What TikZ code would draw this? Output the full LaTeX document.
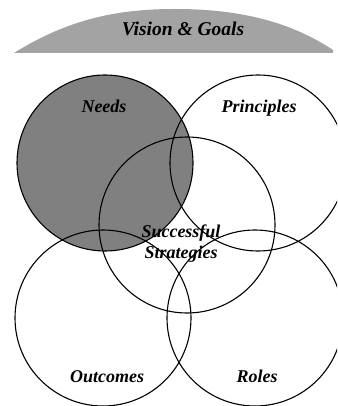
\documentclass[tikz,border=0pt]{standalone}
\usepackage{fontspec}
\setmainfont{Liberation Serif}
\begin{document}
\begin{tikzpicture}[x=1pt,y=-1pt,
  ring/.style={circle,draw=black,line width=1.1pt,minimum size=176pt,inner sep=0pt},
  lbl/.style={font=\fontsize{18}{20}\selectfont\bfseries\itshape,anchor=base,inner sep=0pt}]
\useasboundingbox (0,0) rectangle (337,406);
\clip (0,0) rectangle (337,406);
% Vision & Goals dome
\fill[black!36]
  (14,53) .. controls (70,18) and (120,9) .. (175,9) .. controls (230,9) and (285,18) .. (333,50) -- (333,53) -- cycle;
\node[lbl,font=\fontsize{19.5}{21}\selectfont\bfseries\itshape] (vision) at (183,36) {Vision \& Goals};
% Needs fill
\fill[black!50] (105,163) circle[radius=88pt];
% circles
\node[ring] (needs) at (105,163) {};
\node[ring] (principles) at (258,163) {};
\node[ring] (strategies) at (187,225) {};
\node[ring] (outcomes) at (103,318) {};
\node[ring] (roles) at (255,318) {};
% labels
\node[lbl] (tneeds) at (104,113) {Needs};
\node[lbl] (tprinciples) at (259,113) {Principles};
\node[lbl] (tsucc) at (181,237) {Successful};
\node[lbl] (tstrat) at (181,258) {Strategies};
\node[lbl] (toutcomes) at (107,382) {Outcomes};
\node[lbl] (troles) at (257,382) {Roles};
\end{tikzpicture}
\end{document}
